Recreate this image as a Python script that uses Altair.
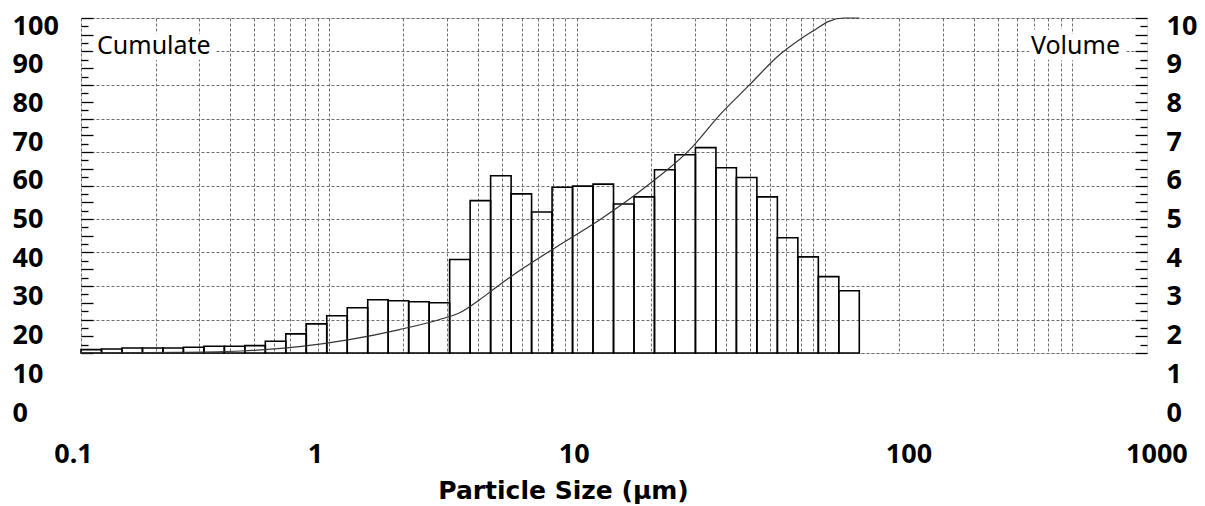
import altair as alt
import pandas as pd

# ---- data ----
# bin edges of the histogram (µm)
bin_edges = [0.1, 0.121, 0.1463, 0.177, 0.2141, 0.2589, 0.3132, 0.3788, 0.4582, 0.5542,
             0.6704, 0.8109, 0.9808, 1.1864, 1.435, 1.7358, 2.0996, 2.5397, 3.072, 3.7159,
             4.4947, 5.4368, 6.5763, 7.9547, 9.6219, 11.638, 14.078, 17.028, 20.597, 24.914,
             30.136, 36.453, 44.093, 53.335, 64.513, 78.035, 94.391, 114.17, 138.1]
# volume % in each bin
volume = [0.10, 0.12, 0.15, 0.15, 0.15, 0.17, 0.20, 0.20, 0.22, 0.35, 0.57, 0.87,
          1.11, 1.35, 1.59, 1.56, 1.53, 1.50, 2.79, 4.55, 5.29, 4.75, 4.21, 4.95,
          4.98, 5.04, 4.45, 4.66, 5.47, 5.92, 6.13, 5.53, 5.24, 4.66, 3.44, 2.87,
          2.28, 1.86]
# cumulative curve (µm, %)
cum_size = [0.1, 0.25, 0.44, 0.76, 1.21, 1.93, 2.8, 3.37, 4.06, 4.89, 5.89, 8.55,
            12.4, 19.7, 28.6, 37.8, 49.9, 66.0, 79.5, 92.0, 104, 120, 138]
cum_pct = [0, 0.2, 0.6, 1.9, 4.0, 7.0, 10.0, 12.0, 15.9, 20.4, 24.6, 32.3,
           39.8, 50.5, 60.7, 71.1, 80.1, 89.1, 93.6, 96.6, 99.0, 100, 100]

x_grid = [m * 10 ** e for e in range(-1, 3) for m in range(1, 10)] + [1000]
x_labels = [0.1, 1, 10, 100, 1000]
cum_ticks = list(range(0, 101, 10))
vol_ticks = list(range(0, 11))
quarter_ticks = [i / 4 for i in range(41) if i % 2 == 1]
half_ticks = [i / 2 for i in range(21)]

bars = pd.DataFrame({"lo": bin_edges[:-1], "hi": bin_edges[1:], "vol": volume})
curve = pd.DataFrame({"size": cum_size, "cum": cum_pct})
ann_l = pd.DataFrame({"x": [0.1], "y": [10], "t": ["Cumulate"]})
ann_r = pd.DataFrame({"x": [2000], "y": [10], "t": ["Volume"]})

W, H = 1066, 335
FONT = "Noto Sans"
GRID = "#6e6e6e"


def xs():
    return alt.Scale(type="log", domain=[0.1, 2000], nice=False)


def ys(d=(0, 10)):
    return alt.Scale(domain=list(d), nice=False, zero=False)


bar_layer = alt.Chart(bars).mark_rect(
    fill="white", fillOpacity=0, stroke="black", strokeWidth=1.6
).encode(
    x=alt.X("lo:Q", scale=xs(), axis=alt.Axis(
        grid=True, values=x_grid, labels=False, ticks=False, domain=False, title=None,
        gridColor=GRID, gridDash=[3, 2], gridWidth=1, gridOpacity=1)),
    x2="hi:Q",
    y=alt.Y("vol:Q", scale=ys(), axis=alt.Axis(
        grid=True, values=vol_ticks, labels=False, ticks=False, domain=False, title=None,
        gridColor=GRID, gridDash=[3, 2], gridWidth=1, gridOpacity=1)),
    y2=alt.datum(0),
)

line_layer = alt.Chart(curve).mark_line(
    color="#333333", strokeWidth=1.2, interpolate="monotone"
).encode(
    x=alt.X("size:Q", scale=xs(), axis=None),
    y=alt.Y("cum:Q", scale=ys((0, 100)), axis=None),
)


def tick_layer(values, size, orient):
    return alt.Chart(bars).mark_point(opacity=0).encode(
        y=alt.Y("vol:Q", scale=ys(), axis=alt.Axis(
            orient=orient, values=values, tickSize=size, offset=-size, labels=False,
            domain=False, grid=False, title=None, tickColor="black", tickWidth=1.3))
    )


def ylab_layer(dom, values, orient, pad):
    return alt.Chart(bars).mark_point(opacity=0).encode(
        y=alt.Y("vol:Q", scale=alt.Scale(domain=list(dom), range=[395, 8], nice=False),
                axis=alt.Axis(orient=orient, values=values, ticks=False, tickSize=0,
                              domain=False, grid=False, title=None, labelAlign="left",
                              labelBaseline="middle", labelPadding=pad, labelFont=FONT,
                              labelFontWeight="bold", labelFontSize=27, labelColor="black",
                              labelFlush=False, labelOverlap=False))
    )


xlab_layer = alt.Chart(bars).mark_point(opacity=0).encode(
    x=alt.X("lo:Q", scale=xs(), axis=alt.Axis(
        orient="bottom", values=x_labels, labelExpr="toString(datum.value)",
        ticks=False, tickSize=0, domain=False, grid=False,
        labelPadding=101, labelBaseline="middle", labelFlush=False, labelOverlap=False,
        labelFont=FONT, labelFontWeight="bold", labelFontSize=27, labelColor="black",
        labelOffset={"condition": [{"test": "datum.value < 0.5", "value": -8},
                                   {"test": "datum.value < 5", "value": -14},
                                   {"test": "datum.value < 50", "value": -3}],
                     "value": 84},
        title="Particle Size (µm)", titleFont="DejaVu Sans", titleFontWeight="bold",
        titleFontSize=25, titleColor="black", titleX=482, titleY=145,
        titleAlign="center", titleBaseline="alphabetic", titleAnchor="start"))
)


def ann_layer(df, align, dx):
    base = alt.Chart(df).encode(
        x=alt.X("x:Q", scale=xs(), axis=None),
        y=alt.Y("y:Q", scale=ys(), axis=None),
        text="t:N",
    )
    bg = base.mark_text(align=align, baseline="alphabetic", dx=dx, dy=36, font=FONT,
                        fontSize=25, stroke="white", strokeWidth=13, fill="white",
                        strokeJoin="round")
    fg = base.mark_text(align=align, baseline="alphabetic", dx=dx, dy=36, font=FONT,
                        fontSize=25, color="black")
    return bg + fg


chart = alt.layer(
    bar_layer,
    line_layer,
    tick_layer(quarter_ticks, 7, "left"),
    tick_layer(half_ticks, 12, "left"),
    tick_layer(quarter_ticks, 7, "right"),
    tick_layer(half_ticks, 12, "right"),
    ylab_layer((0, 100), cum_ticks, "left", 69),
    ylab_layer((0, 10), vol_ticks, "right", 19),
    xlab_layer,
    ann_layer(ann_l, "left", 16),
    ann_layer(ann_r, "right", -27),
).resolve_scale(x="independent", y="independent").properties(
    width=W, height=H,
    autosize=alt.AutoSizeParams(type="none"),
    padding={"left": 73, "top": 10, "right": 50, "bottom": 158},
).configure_view(stroke="black", strokeWidth=1.6).configure(background="white")

chart.save("out.html", embed_options={"renderer": "svg", "actions": False})
